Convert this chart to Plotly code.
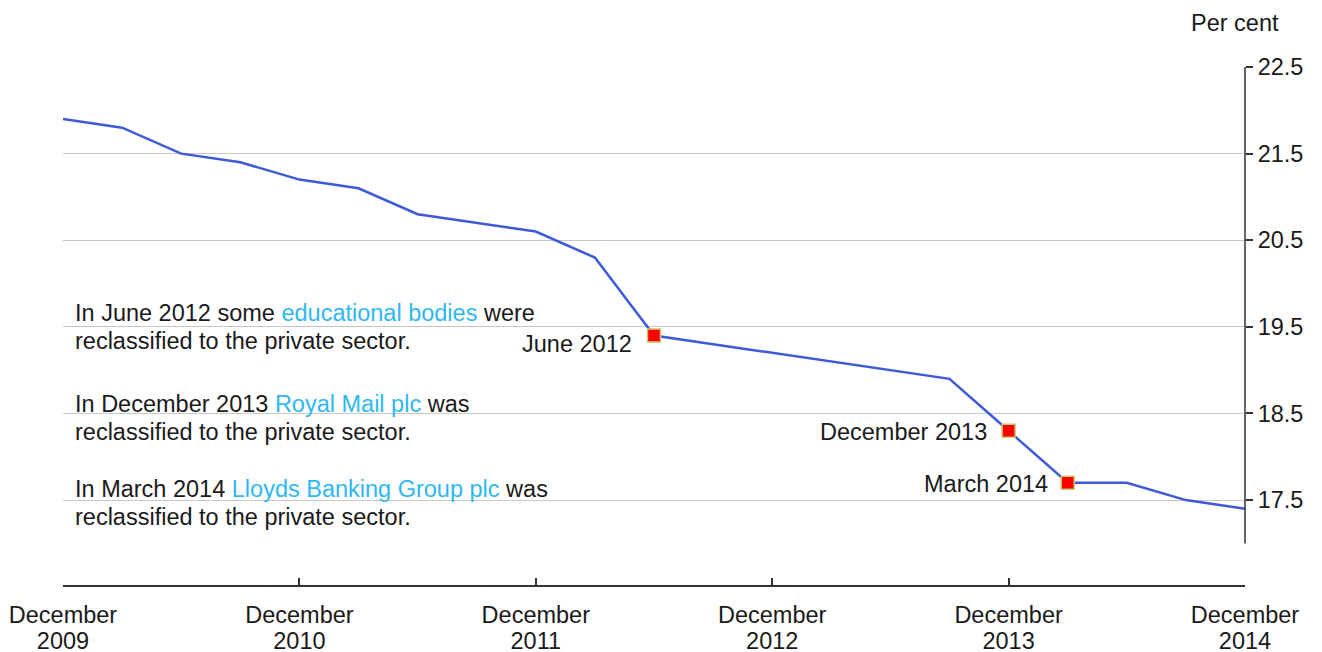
import plotly.graph_objects as go

quarters = ["Dec 2009", "Mar 2010", "Jun 2010", "Sep 2010", "Dec 2010", "Mar 2011", "Jun 2011",
            "Sep 2011", "Dec 2011", "Mar 2012", "Jun 2012", "Sep 2012", "Dec 2012", "Mar 2013",
            "Jun 2013", "Sep 2013", "Dec 2013", "Mar 2014", "Jun 2014", "Sep 2014", "Dec 2014"]
values = [21.9, 21.8, 21.5, 21.4, 21.2, 21.1, 20.8, 20.7, 20.6, 20.3, 19.4, 19.3, 19.2, 19.1,
          19.0, 18.9, 18.3, 17.7, 17.7, 17.5, 17.4]
tick_months = ["December"] * 6
tick_years = ["2009", "2010", "2011", "2012", "2013", "2014"]
tick_idx = [0, 4, 8, 12, 16, 20]
y_ticks = [17.5, 18.5, 19.5, 20.5, 21.5, 22.5]
event_labels = {"Jun 2012": "June 2012", "Dec 2013": "December 2013", "Mar 2014": "March 2014"}
notes = [
    ("In June 2012 some ", "educational bodies", " were", 19.66, 19.34),
    ("In December 2013 ", "Royal Mail plc", " was", 18.61, 18.29),
    ("In March 2014 ", "Lloyds Banking Group plc", " was", 17.63, 17.30),
]
note_line2 = "reclassified to the private sector."

xs = list(range(len(quarters)))
FONT = "Liberation Sans, Arial, sans-serif"
TXT = "#1a1a1a"
FS = 23.5

fig = go.Figure()
fig.add_trace(go.Scatter(x=xs, y=values, mode="lines",
                         line=dict(color="#3d5ad8", width=2.5), hoverinfo="skip"))
ev_x = [xs[quarters.index(q)] for q in event_labels]
ev_y = [values[quarters.index(q)] for q in event_labels]
fig.add_trace(go.Scatter(x=ev_x, y=ev_y, mode="markers",
                         marker=dict(symbol="square", size=13, color="#ff0000",
                                     line=dict(color="#c8c870", width=1.5)), hoverinfo="skip"))
# invisible trace to carry the second (year) tick-label axis
fig.add_trace(go.Scatter(x=[xs[0], xs[-1]], y=[values[0], values[-1]], xaxis="x2",
                         mode="none", showlegend=False, hoverinfo="skip"))

shifts = {"Jun 2012": (-20, -8), "Dec 2013": (-20, -1), "Mar 2014": (-18, -1)}
for q, lab in event_labels.items():
    i = quarters.index(q)
    xsft, ysft = shifts[q]
    fig.add_annotation(x=xs[i], y=values[i], text=lab, showarrow=False, xanchor="right",
                       yanchor="middle", xshift=xsft, yshift=ysft,
                       font=dict(family=FONT, size=FS, color=TXT))

for pre, link, post, y1, y2 in notes:
    fig.add_annotation(xref="paper", x=0.0085, y=y1, yanchor="middle", xanchor="left",
                       align="left", showarrow=False,
                       text=pre + "<span style='color:#2fb8ef'>" + link + "</span>" + post,
                       font=dict(family=FONT, size=FS, color=TXT))
    fig.add_annotation(xref="paper", x=0.0085, y=y2, yanchor="middle", xanchor="left",
                       align="left", showarrow=False, text=note_line2,
                       font=dict(family=FONT, size=FS, color=TXT))

fig.add_annotation(xref="paper", yref="paper", x=1.0, y=1.0, yshift=44, xshift=-10,
                   xanchor="center", yanchor="middle", text="Per cent", showarrow=False,
                   font=dict(family=FONT, size=FS, color=TXT))

# right-hand y axis line (ends at 17.0)
fig.add_shape(type="line", xref="paper", x0=1, x1=1, y0=17.0, y1=22.5,
              line=dict(color="#333333", width=1.5))

fig.update_layout(
    width=1314, height=644, plot_bgcolor="white", paper_bgcolor="white",
    margin=dict(l=55, r=77, t=59, b=67), showlegend=False,
    font=dict(family=FONT, size=FS, color=TXT),
    xaxis=dict(range=[0, 20], tickvals=tick_idx, ticktext=tick_months, showgrid=False,
               zeroline=False, showline=True, linecolor="#333333", linewidth=1.5,
               ticks="inside", ticklen=7, tickcolor="#333333", tickwidth=1.5,
               ticklabelstandoff=8, automargin=False,
               tickfont=dict(family=FONT, size=FS, color=TXT)),
    xaxis2=dict(range=[0, 20], overlaying="x", side="bottom", anchor="y", tickvals=tick_idx,
                ticktext=tick_years, showgrid=False, zeroline=False, showline=False,
                ticks="", ticklabelstandoff=39, automargin=False,
                tickfont=dict(family=FONT, size=FS, color=TXT)),
    yaxis=dict(range=[16.52, 22.5], side="right", tickvals=y_ticks,
               ticktext=[f"{v:.1f}" for v in y_ticks], showgrid=True, gridcolor="#c8c8c8",
               gridwidth=1, zeroline=False, showline=False, ticks="outside", ticklen=7,
               tickcolor="#333333", tickwidth=1.5, automargin=False,
               tickfont=dict(family=FONT, size=FS, color=TXT)),
)

fig.write_html("out.html")
